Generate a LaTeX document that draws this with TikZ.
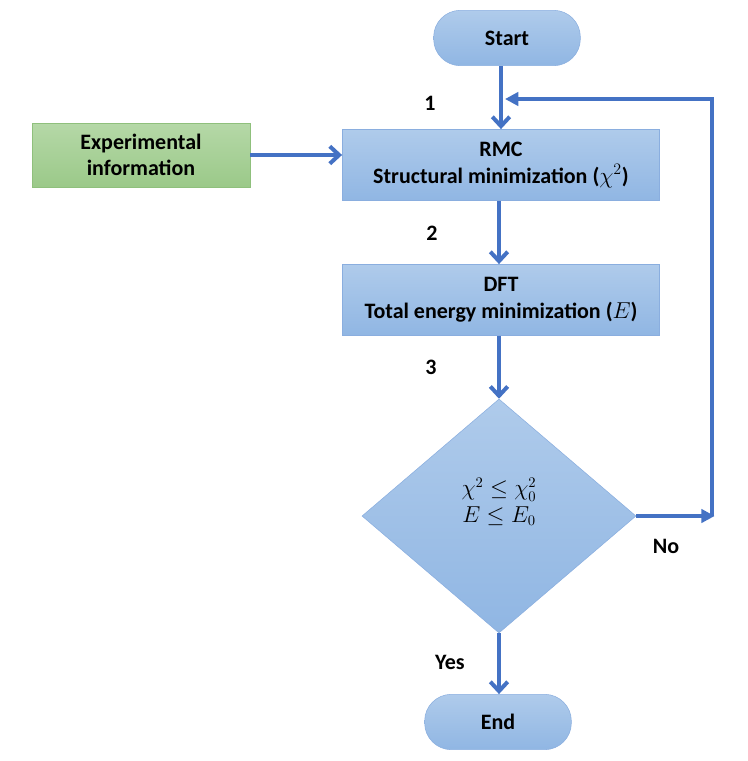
\documentclass[tikz,border=0pt]{standalone}
\usepackage{amsmath}
\usepackage{fontspec}
\setmainfont{Carlito}
\usepackage{tikz}
\usetikzlibrary{arrows.meta,shapes.geometric}

\definecolor{arrowblue}{HTML}{4472C4}
\definecolor{boxtop}{HTML}{AFCBEB}
\definecolor{boxbot}{HTML}{90B6E3}
\definecolor{boxline}{HTML}{8AAEDF}
\definecolor{greentop}{HTML}{B5D8A7}
\definecolor{greenbot}{HTML}{9BC989}
\definecolor{greenline}{HTML}{8FC07C}

\begin{document}
\begin{tikzpicture}[x=0.75pt,y=-0.75pt,
        font={\fontsize{16.5}{20}\selectfont\bfseries},
        blockbox/.style={draw=boxline, top color=boxtop, bottom color=boxbot, align=center,
            minimum width=238pt, minimum height=53.5pt, inner sep=2pt},
        termbox/.style={blockbox, minimum width=110pt, minimum height=41.5pt, rounded corners=20pt},
        infobox/.style={draw=greenline, top color=greentop, bottom color=greenbot, align=center,
            minimum width=163.5pt, minimum height=48pt},
        testbox/.style={diamond, draw=boxline, top color=boxtop, bottom color=boxbot, align=center,
            minimum width=205.5pt, minimum height=175.5pt, inner sep=0pt, font={\fontsize{16}{19}\selectfont}},
        flow/.style={draw=arrowblue, line width=3pt, -{Straight Barb[length=7pt,width=13pt]}},
        back/.style={draw=arrowblue, line width=3pt, -{Triangle[length=10pt,width=10pt]}},
        plain/.style={draw=arrowblue, line width=3pt}]
    \useasboundingbox (0,0) rectangle (748,761);

    \node[termbox] (start) at (507,38) {Start};
    \node[infobox] (expinfo) at (141,155) {Experimental\\information};
    \node[blockbox] (rmc) at (501,165) {RMC\\Structural minimization ($\chi^2$)};
    \node[blockbox] (dft) at (501,300) {DFT\\Total energy minimization ($E$)};
    \node[testbox] (test) at (499,516) {$\chi^2 \le \chi_0^2$\\[1pt]$E \le E_0$\\[5pt]};
    \node[termbox] (stop) at (498,722) {End};

    \node (lbl1) at (430,103) {1};
    \node (lbl2) at (432,233) {2};
    \node (lbl3) at (431,367) {3};
    \node (lblno) at (666,546) {No};
    \node (lblyes) at (450,662) {Yes};

    \coordinate (join) at (505,99);
    \coordinate (corner) at (712,516);

    \draw[flow] (rmc.north |- start.south) -- (rmc.north);
    \draw[flow] (expinfo.east) -- (expinfo.east -| rmc.west);
    \draw[flow] (rmc.south -| test.north) -- (dft.north -| test.north);
    \draw[flow] (dft.south -| test.north) -- (test.north);
    \draw[flow] (test.south) -- (test.south |- stop.north);

    % loop back when the test fails
    \draw[back] (test.east) -- ([xshift=2pt]corner);
    \draw[plain] (corner) -- (corner |- join) -- ([xshift=12pt]join);
    \draw[back] ([xshift=20pt]join) -- (join);
\end{tikzpicture}
\end{document}
